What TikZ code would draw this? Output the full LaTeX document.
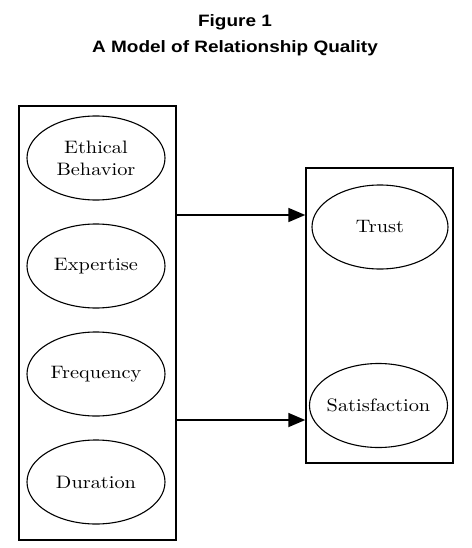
\documentclass[tikz,border=0pt]{standalone}
\usepackage{fontspec}
\newfontfamily\headfont{Liberation Sans}[FakeStretch=1.15]
\newfontfamily\bodyfont{lmroman10-regular}[Extension=.otf, FakeStretch=1.13]
\usetikzlibrary{positioning, shapes.geometric, arrows.meta, calc}

\begin{document}
\begin{tikzpicture}[
    x=1pt, y=-1pt,
    >=LaTeX,
    arrow/.style={
        -{Triangle[length=17pt, width=14pt]},
        line width=1.8pt
    },
    group/.style={
        rectangle,
        draw,
        line width=1.5pt,
        inner sep=0pt
    },
    construct/.style={
        ellipse,
        draw,
        line width=1.1pt,
        minimum width=138pt,
        minimum height=84pt,
        inner xsep=-12pt,
        inner ysep=0pt,
        align=center,
        font=\bodyfont\fontsize{18}{22}\selectfont
    },
    heading/.style={
        align=center,
        font=\headfont\bfseries\fontsize{16.5}{25.5}\selectfont
    }
]

    \useasboundingbox (0,0) rectangle (471,548);

    % Title
    \node[heading] (title) at (235,35) {Figure 1\\A Model of Relationship Quality};

    % Antecedents
    \node[group, minimum width=157pt, minimum height=434pt] (left) at (97.5,323) {};
    \node[construct] (ethics) at (96,158) {Ethical\\Behavior};
    \node[construct] (expert) at (96,266) {Expertise};
    \node[construct] (freq) at (96,374) {Frequency};
    \node[construct] (dur) at (96,482) {Duration};

    % Relationship quality
    \node[group, minimum width=147pt, minimum height=295pt] (right) at (379.5,315.5) {};
    \node[construct, minimum width=136pt] (trust) at (380,227) {Trust};
    \node[construct] (satis) at (378.5,405.5) {Satisfaction};

    % Links
    \coordinate (upper) at (0,215);
    \coordinate (lower) at (0,420);
    \draw[arrow] (left.east |- upper) -- (right.west |- upper);
    \draw[arrow] (left.east |- lower) -- (right.west |- lower);

\end{tikzpicture}
\end{document}
